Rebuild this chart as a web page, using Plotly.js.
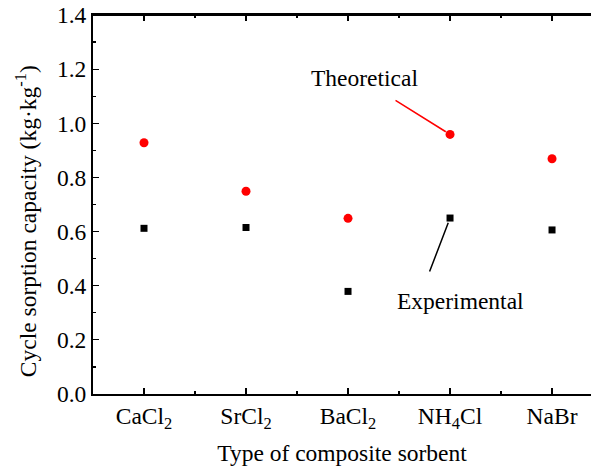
<!DOCTYPE html>
<html>
<head>
<meta charset="utf-8">
<script src="https://cdn.plot.ly/plotly-3.0.1.min.js"></script>
<style>html,body{margin:0;padding:0;overflow:hidden;background:#fff}</style>
</head>
<body>
<div id="chart" style="width:592px;height:468px"></div>
<script>
const categories = ["CaCl<sub>2</sub>", "SrCl<sub>2</sub>", "BaCl<sub>2</sub>", "NH<sub>4</sub>Cl", "NaBr"];
const theoretical = [0.928, 0.749, 0.649, 0.959, 0.869];
const experimental = [0.612, 0.615, 0.379, 0.650, 0.606];
const yTicks = [0.0, 0.2, 0.4, 0.6, 0.8, 1.0, 1.2, 1.4];
const yTickLabels = ["0.0", "0.2", "0.4", "0.6", "0.8", "1.0", "1.2", "1.4"];

const FONT = "Liberation Serif, Times New Roman, serif";
const FS = 23.5;
const idx = categories.map((c, i) => i);

const traces = [
  {x: idx, y: theoretical, type: "scatter", mode: "markers", name: "Theoretical",
   marker: {symbol: "circle", size: 9, color: "#ff0000"}},
  {x: idx, y: experimental, type: "scatter", mode: "markers", name: "Experimental",
   marker: {symbol: "square", size: 7, color: "#000000"}}
];

const layout = {
  width: 592, height: 468,
  margin: {l: 93, r: 1, t: 15, b: 74},
  paper_bgcolor: "#fff", plot_bgcolor: "#fff",
  showlegend: false,
  font: {family: FONT, size: FS, color: "#000"},
  xaxis: {
    type: "linear", range: [-0.5, 4.382],
    tickvals: idx, ticktext: categories,
    showline: true, linecolor: "#000", linewidth: 2, mirror: "allticks",
    ticks: "inside", ticklen: 6, tickwidth: 1.2, tickcolor: "#000",
    minor: {tick0: 0.5, dtick: 1, ticks: "inside", ticklen: 3, tickcolor: "#000", showgrid: false},
    showgrid: false, zeroline: false,
    tickfont: {family: FONT, size: FS, color: "#000"},
    title: {text: "Type of composite sorbent", font: {family: FONT, size: FS, color: "#000"}, standoff: 12}
  },
  yaxis: {
    range: [0, 1.4],
    tickvals: yTicks, ticktext: yTickLabels,
    showline: true, linecolor: "#000", linewidth: 2,
    ticks: "inside", ticklen: 6, tickwidth: 1.2, tickcolor: "#000",
    minor: {dtick: 0.1, ticks: "inside", ticklen: 3, tickcolor: "#000", showgrid: false},
    showgrid: false, zeroline: false,
    tickfont: {family: FONT, size: FS, color: "#000"}
  },
  shapes: [
    {type: "line", xref: "paper", yref: "paper", x0: 0, x1: 1, y0: 1, y1: 1, line: {color: "#000", width: 2}}
  ],
  annotations: [
    {xref: "paper", yref: "paper", x: 0, y: 0.456, xshift: -67, xanchor: "center", yanchor: "middle", textangle: -90,
     text: "Cycle sorption capacity (kg·kg<sup>-1</sup>)", showarrow: false,
     font: {family: FONT, size: FS, color: "#000"}},
    {x: 2.157, y: 1.169, xref: "x", yref: "y", text: "Theoretical", showarrow: false,
     font: {family: FONT, size: FS, color: "#000"}},
    {x: 3, y: theoretical[3], xref: "x", yref: "y", text: "", showarrow: true,
     arrowhead: 0, arrowwidth: 1.5, arrowcolor: "#ff0000", ax: -56, ay: -35, standoff: 5},
    {x: 3.103, y: 0.342, xref: "x", yref: "y", text: "Experimental", showarrow: false,
     font: {family: FONT, size: FS, color: "#000"}},
    {x: 3, y: experimental[3], xref: "x", yref: "y", text: "", showarrow: true,
     arrowhead: 0, arrowwidth: 1.5, arrowcolor: "#000000", ax: -21, ay: 55, standoff: 5}
  ]
};

Plotly.newPlot("chart", traces, layout, {staticPlot: true, displayModeBar: false});
</script>
</body>
</html>
